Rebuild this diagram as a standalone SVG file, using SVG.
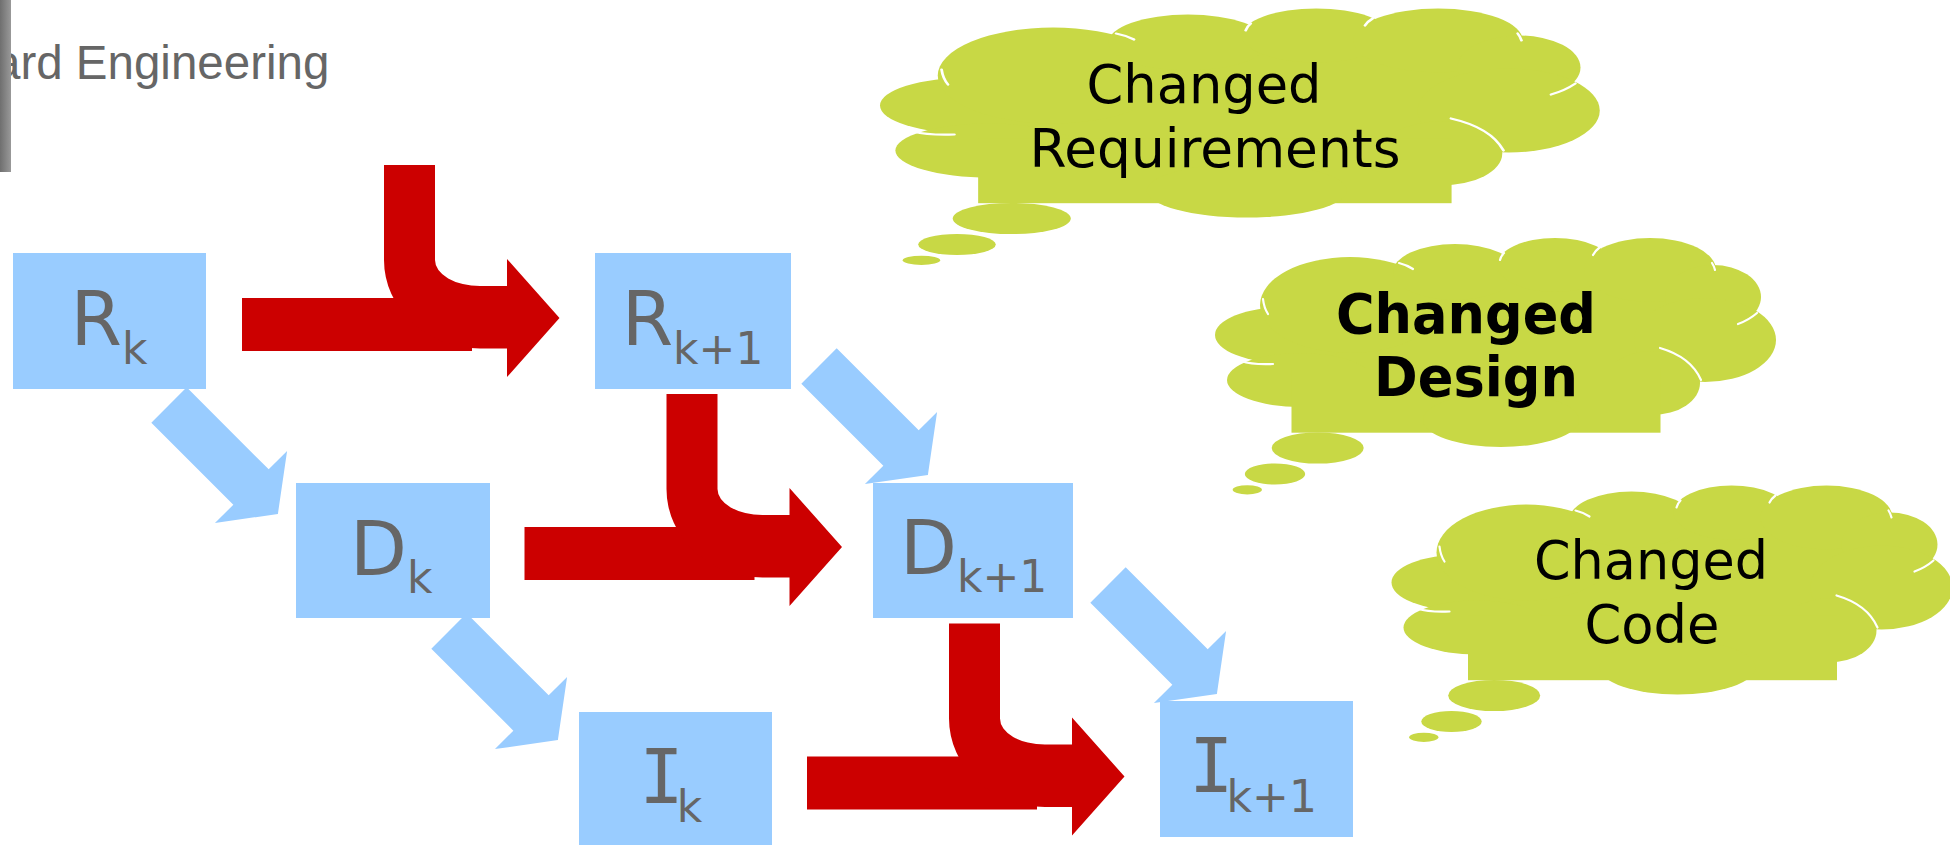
<svg xmlns="http://www.w3.org/2000/svg" width="1950" height="845" viewBox="0 0 1950 845">
  <defs>
    <style>
      .box { fill: #99CCFF; }
      .lbl { font-family: "DejaVu Sans", "Verdana", sans-serif; font-size: 74px; fill: #666666; }
      .sub { font-size: 44px; }
      .mono { font-family: "DejaVu Sans Mono", monospace; }
      .flow { fill: #CC0000; }
      .step { fill: #99CCFF; }
      .cloud { fill: #C8D845; }
      .seam { fill: none; stroke: #FFFFFF; stroke-width: 2.2; stroke-linecap: round; vector-effect: non-scaling-stroke; }
      .ctext { font-family: "DejaVu Sans", "Verdana", sans-serif; font-size: 53px; fill: #000000; text-anchor: middle; }
      .bold { font-weight: bold; font-size: 55px; }
    </style>
    <linearGradient id="barGrad" x1="0" y1="0" x2="1" y2="0">
      <stop offset="0" stop-color="#6f6f6f"/>
      <stop offset="1" stop-color="#999999"/>
    </linearGradient>
    <!-- block arrow pointing along +x, tail at origin -->
    <polygon id="stepArrow" points="0,-25 116,-25 116,-51 154,0 116,51 116,25 0,25"/>
    <!-- merge arrow: vertical feed bending right, plus horizontal bar -->
    <g id="mergeArrow">
      <rect x="242" y="298" width="230" height="53"/>
      <path d="M384,165 H435 V260 A45,26 0 0 0 480,286 H507 V259 L559.5,318 L507,377 V348.5 H480 A96,88.5 0 0 1 384,260 Z"/>
    </g>
    <!-- thought cloud outline, local coordinates -->
    <g id="cloudShape">
      <ellipse cx="285" cy="105" rx="215" ry="75"/>
      <ellipse cx="70" cy="97" rx="70" ry="28"/>
      <ellipse cx="85" cy="142" rx="73" ry="27"/>
      <ellipse cx="135" cy="67" rx="90" ry="48"/>
      <ellipse cx="240" cy="34" rx="62" ry="28"/>
      <ellipse cx="340" cy="27" rx="58" ry="27"/>
      <ellipse cx="435" cy="32" rx="66" ry="32"/>
      <ellipse cx="498" cy="59" rx="48" ry="32"/>
      <ellipse cx="490" cy="102" rx="71" ry="42"/>
      <ellipse cx="437" cy="145" rx="48" ry="32"/>
      <rect x="76.5" y="130" width="369" height="64.7"/>
      <ellipse cx="286" cy="182" rx="78" ry="27"/>
      <ellipse cx="102.7" cy="210" rx="46" ry="15.6"/>
      <ellipse cx="60" cy="236" rx="30.2" ry="10.6"/>
      <ellipse cx="32.3" cy="251.8" rx="14.6" ry="4.6"/>
    </g>
    <g id="cloudSeams">
      <path d="M48,61 Q49,70 53,76"/>
      <path d="M26,123 Q38,127 58,126"/>
      <path d="M184,25 Q192,27 198,31"/>
      <path d="M285,22 Q286,18 289,15"/>
      <path d="M378,17 Q380,13 384,10"/>
      <path d="M497,25 Q499,28 500,32"/>
      <path d="M523,86 Q534,82 542,75"/>
      <path d="M445,110 Q476,119 486,142"/>
    </g>
  </defs>

  <rect width="1950" height="845" fill="#FFFFFF"/>

  <!-- page header remnant -->
  <g id="header">
    <text x="-6" y="79.3" font-family="Liberation Sans, Arial, sans-serif" font-size="47.5" fill="#666666">ard Engineering</text>
    <rect x="0" y="0" width="11" height="172" fill="url(#barGrad)"/>
  </g>

  <!-- connectors -->
  <g id="connectors">
    <use href="#stepArrow" class="step" transform="translate(169,405) rotate(45)"/>
    <use href="#stepArrow" class="step" transform="translate(449,631) rotate(45)"/>
    <use href="#stepArrow" class="step" transform="translate(819,366) rotate(45)"/>
    <use href="#stepArrow" class="step" transform="translate(1108,585) rotate(45)"/>
    <use href="#mergeArrow" class="flow"/>
    <use href="#mergeArrow" class="flow" transform="translate(282.5,229)"/>
    <use href="#mergeArrow" class="flow" transform="translate(565,458.5)"/>
  </g>

  <!-- artefact boxes -->
  <g id="node-Rk">
    <rect class="box" x="13" y="253" width="193" height="136"/>
    <text class="lbl" x="70.5" y="345">R<tspan class="sub" dy="19">k</tspan></text>
  </g>
  <g id="node-Rk1">
    <rect class="box" x="595" y="253" width="196" height="136"/>
    <text class="lbl" x="621.7" y="345">R<tspan class="sub" dy="19">k+1</tspan></text>
  </g>
  <g id="node-Dk">
    <rect class="box" x="296" y="483" width="194" height="135"/>
    <text class="lbl" x="350" y="575">D<tspan class="sub" dy="18">k</tspan></text>
  </g>
  <g id="node-Dk1">
    <rect class="box" x="873" y="483" width="200" height="135"/>
    <text class="lbl" x="900" y="574">D<tspan class="sub" dy="18">k+1</tspan></text>
  </g>
  <g id="node-Ik">
    <rect class="box" x="579" y="712" width="193" height="140"/>
    <text class="lbl" x="639.3" y="803"><tspan class="mono">I</tspan><tspan class="sub" dx="-7" dy="19">k</tspan></text>
  </g>
  <g id="node-Ik1">
    <rect class="box" x="1160" y="701" width="193" height="136"/>
    <text class="lbl" x="1189" y="792"><tspan class="mono">I</tspan><tspan class="sub" dx="-7" dy="20">k+1</tspan></text>
  </g>

  <!-- thought clouds -->
  <g id="cloud-requirements">
    <g transform="translate(880,8.5) scale(1.283,1)">
      <use href="#cloudShape" class="cloud"/>
      <use href="#cloudSeams" class="seam"/>
    </g>
    <text class="ctext" x="1204" y="103.3" textLength="235" lengthAdjust="spacingAndGlyphs">Changed</text>
    <text class="ctext" x="1215" y="167" textLength="371" lengthAdjust="spacingAndGlyphs">Requirements</text>
  </g>
  <g id="cloud-design">
    <g transform="translate(1215,238)">
      <use href="#cloudShape" class="cloud"/>
      <use href="#cloudSeams" class="seam"/>
    </g>
    <text class="ctext bold" x="1466" y="333.3" textLength="260" lengthAdjust="spacingAndGlyphs">Changed</text>
    <text class="ctext bold" x="1476" y="396" textLength="204" lengthAdjust="spacingAndGlyphs">Design</text>
  </g>
  <g id="cloud-code">
    <g transform="translate(1391.5,485.5)">
      <use href="#cloudShape" class="cloud"/>
      <use href="#cloudSeams" class="seam"/>
    </g>
    <text class="ctext" x="1651" y="579.3" textLength="234" lengthAdjust="spacingAndGlyphs">Changed</text>
    <text class="ctext" x="1652" y="643.3" textLength="135" lengthAdjust="spacingAndGlyphs">Code</text>
  </g>
</svg>
